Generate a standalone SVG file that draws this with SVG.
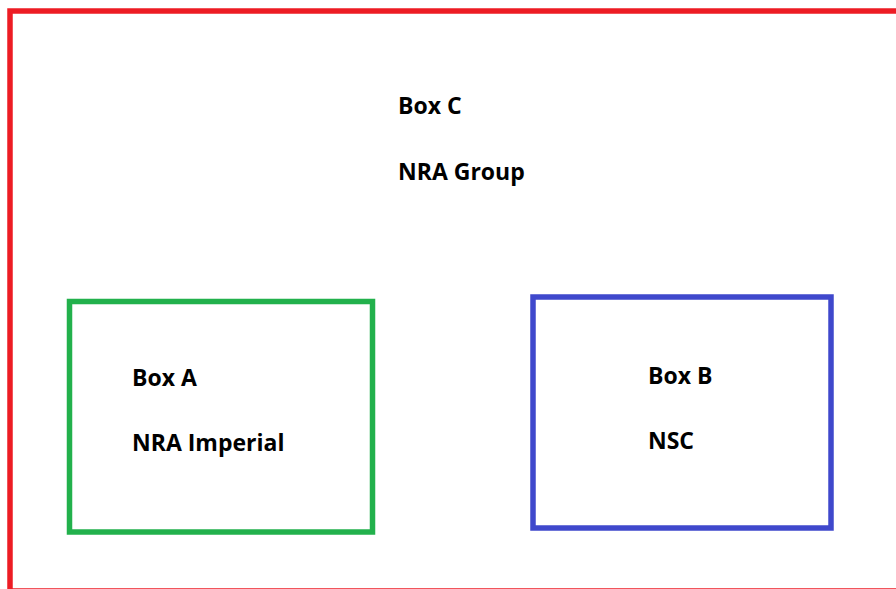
<svg xmlns="http://www.w3.org/2000/svg" width="896" height="589" viewBox="0 0 896 589">
<style>
.lbl{font-family:"Open Sans","Liberation Sans",sans-serif;font-weight:bold;font-size:23px;fill:#000}
.box{fill:none;stroke-width:5.5}
</style>
<rect width="896" height="589" fill="#fff"/>
<g id="boxC">
<rect class="box" x="10" y="11" width="900" height="580" stroke="#ED1C24"/>
<text class="lbl" x="398" y="114">Box C</text>
<text class="lbl" x="398" y="180">NRA Group</text>
</g>
<g id="boxA">
<rect class="box" x="69.5" y="301.5" width="303" height="230.5" stroke="#22B14C"/>
<text class="lbl" x="132" y="386">Box A</text>
<text class="lbl" x="132" y="451">NRA Imperial</text>
</g>
<g id="boxB">
<rect class="box" x="533" y="297" width="298" height="231" stroke="#3F48CC"/>
<text class="lbl" x="648" y="384">Box B</text>
<text class="lbl" x="648" y="449">NSC</text>
</g>
<g id="connectors"></g>
</svg>
